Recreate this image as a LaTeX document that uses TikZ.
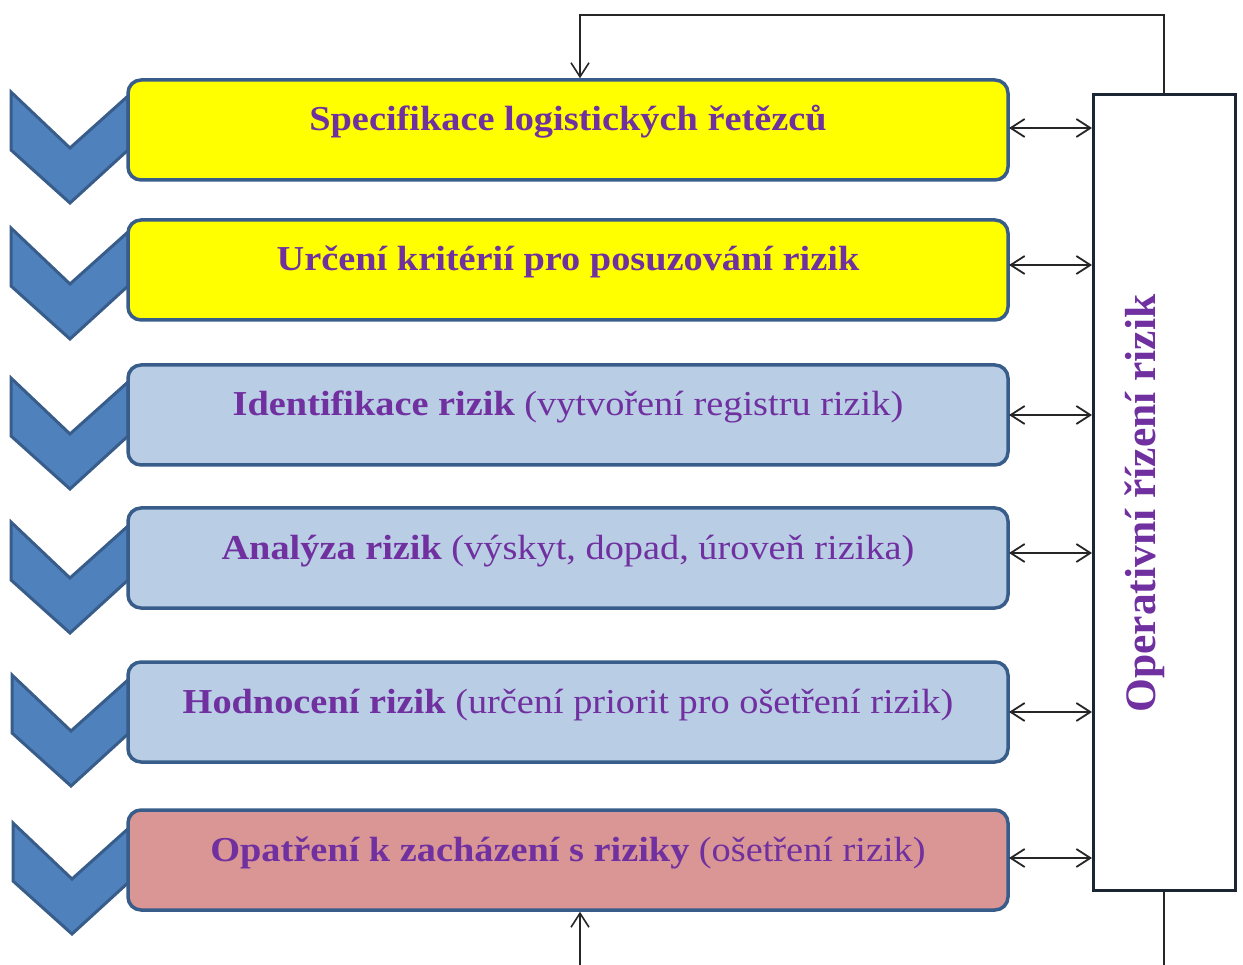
\documentclass[tikz,border=0pt]{standalone}
\usepackage{fontspec}
\setmainfont{Liberation Serif}
\usetikzlibrary{arrows.meta}
\definecolor{purp}{HTML}{7030A0}
\definecolor{yel}{HTML}{FFFF00}
\definecolor{lblue}{HTML}{B9CDE5}
\definecolor{pink}{HTML}{D99694}
\definecolor{chfill}{HTML}{4F81BD}
\definecolor{chline}{HTML}{385D8A}
\definecolor{rline}{HTML}{1C2533}
\tikzset{
  stagebox/.style={draw=chline, line width=3.5pt, rounded corners=13pt, minimum width=880pt, minimum height=100pt, inner sep=0pt},
  stagetext/.style={text=purp, anchor=base, inner sep=0pt, xscale=1.095, font=\fontsize{35}{40}\selectfont},
  chev/.style={fill=chfill, draw=chline, line width=3pt, line join=miter},
  conn/.style={draw=black!85, line width=1.6pt},
  dbl/.style={draw=black!85, line width=1.8pt, {Straight Barb[length=14pt,width=18pt,line width=1.8pt]}-{Straight Barb[length=14pt,width=18pt,line width=1.8pt]}},
  sarr/.style={draw=black!85, line width=1.6pt, -{Straight Barb[length=14pt,width=18pt,line width=1.6pt]}}
}
\newcommand{\chevron}[2]{%
  \path[chev] (#1,#2) -- (#1+59,#2+56) -- (#1+117,#2+4) -- (#1+117,#2+58) -- (#1+59,#2+111) -- (#1,#2+58) -- cycle;}
\begin{document}
\begin{tikzpicture}[x=1pt,y=-1pt]
\useasboundingbox (0,0) rectangle (1243,965);
% chevrons
\chevron{11}{92}
\chevron{11}{228}
\chevron{11}{378}
\chevron{11}{522}
\chevron{12}{675}
\chevron{13}{823}
% boxes
\node[stagebox, fill=yel] (b1) at (568,130) {};
\node[stagebox, fill=yel] (b2) at (568,270) {};
\node[stagebox, fill=lblue] (b3) at (568,415) {};
\node[stagebox, fill=lblue] (b4) at (568,558) {};
\node[stagebox, fill=lblue] (b5) at (568,712) {};
\node[stagebox, fill=pink] (b6) at (568,860) {};
% texts
\node[stagetext] (t1) at ([yshift=-1pt]b1.center) {\textbf{Specifikace logistických řetězců}};
\node[stagetext] (t2) at ([yshift=-1pt]b2.center) {\textbf{Určení kritérií pro posuzování rizik}};
\node[stagetext] (t3) at ([yshift=-1pt]b3.center) {\textbf{Identifikace rizik} (vytvoření registru rizik)};
\node[stagetext] (t4) at ([yshift=-1pt]b4.center) {\textbf{Analýza rizik} (výskyt, dopad, úroveň rizika)};
\node[stagetext] (t5) at ([yshift=-1pt]b5.center) {\textbf{Hodnocení rizik} (určení priorit pro ošetření rizik)};
\node[stagetext] (t6) at ([yshift=-1pt]b6.center) {\textbf{Opatření k zacházení s riziky} (ošetření rizik)};
% right box
\node[draw=rline, line width=3pt, fill=white, minimum width=142pt, minimum height=795pt, inner sep=0pt] (R) at (1164,492.5) {};
\node[text=purp, rotate=90, anchor=base, inner sep=0pt, font=\fontsize{43.5}{48}\selectfont\bfseries] (rt) at (1155,503.5) {Operativní řízení rizik};
% double arrows
\foreach \i/\y in {1/128,2/265,3/415,4/553,5/712,6/858}{
  \coordinate (L\i) at (1009,\y);
  \coordinate (Q\i) at (1092,\y);
  \draw[dbl] (L\i) -- (Q\i);
}
% feedback loop
\coordinate (top) at (580,15);
\draw[sarr] (R.north) |- (top) -- (top |- b1.north);
\coordinate (bl) at (580,965);
\draw[sarr] (bl) -- (bl |- b6.south);
\coordinate (br) at (1164,965);
\draw[conn] (R.south) -- (br);
\end{tikzpicture}
\end{document}
